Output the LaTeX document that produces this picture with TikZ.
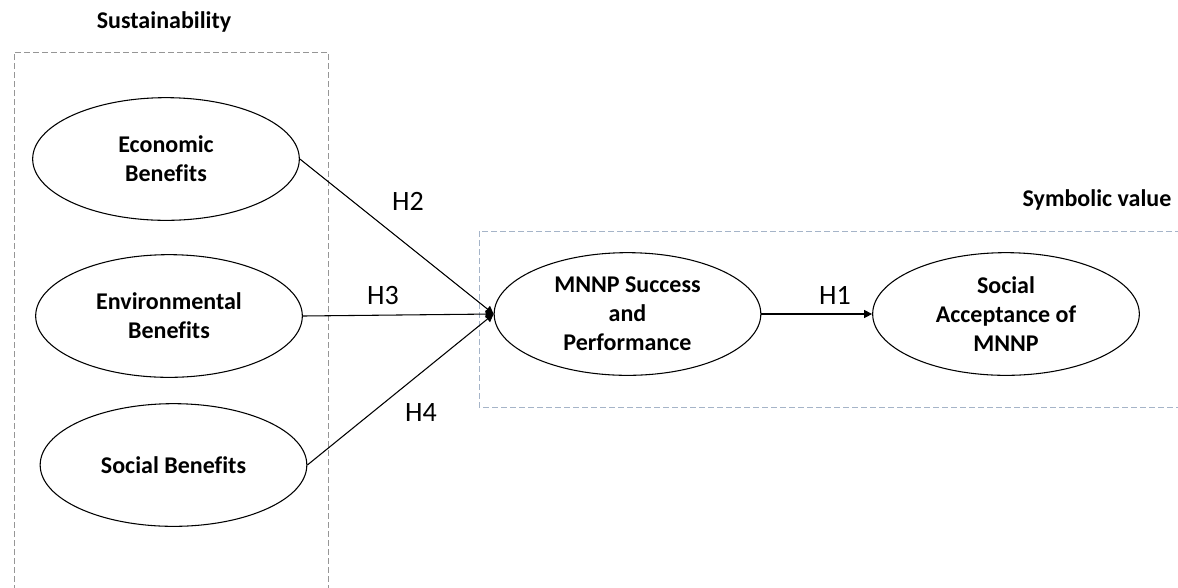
\documentclass[tikz,border=0pt]{standalone}
\usepackage{fontspec}
\setmainfont{Carlito}[Ligatures=NoCommon]
\usetikzlibrary{shapes.geometric,arrows.meta}
\definecolor{boxgray}{RGB}{150,150,150}
\definecolor{boxblue}{RGB}{165,180,200}
\tikzset{
  construct/.style={draw=black, line width=0.8pt, ellipse, inner sep=0pt,
    minimum width=200pt, minimum height=92pt, align=center,
    font=\fontsize{18}{21.75}\selectfont\bfseries},
  grouptitle/.style={anchor=base, inner sep=0pt, font=\fontsize{18}{21.75}\selectfont\bfseries},
  hyp/.style={inner sep=0pt, font=\fontsize{21}{25}\selectfont},
  arr/.style={draw=black, line width=0.8pt, -{Triangle[length=6pt,width=6pt]}},
  groupbox/.style={dash pattern=on 4.5pt off 2.25pt, line width=0.75pt}
}
\begin{document}
\begin{tikzpicture}[x=0.75pt,y=-0.75pt]
\useasboundingbox (0,0) rectangle (1178,587);
% group boxes
\draw[groupbox, draw=boxgray] (14,600) -- (14,52) -- (328,52) -- (328,600);
\draw[groupbox, draw=boxblue] (1190,231) -- (479,231) -- (479,407) -- (1190,407);
\node[grouptitle] (sust) at (164,28) {Sustainability};
\node[grouptitle] (symb) at (1097,206) {Symbolic value};
% constructs
\node[construct] (econ) at (166,159) {Economic\\Benefits};
\node[construct] (env) at (169,316) {Environmental\\Benefits};
\node[construct] (soc) at (173.5,465) {Social Benefits};
\node[construct] (mnnp) at (627.5,314) {MNNP Success\\and\\Performance};
\node[construct] (acc) at (1006,314) {Social\\Acceptance of\\MNNP};
% connectors
\draw[arr] (econ.east) -- (mnnp.west);
\draw[arr] (env.east) -- (mnnp.west);
\draw[arr] (soc.east) -- (mnnp.west);
\draw[arr] (mnnp.east) -- (acc.west);
% hypothesis labels
\node[hyp] (h2) at (408,201) {H2};
\node[hyp] (h3) at (383,296) {H3};
\node[hyp] (h4) at (421,412) {H4};
\node[hyp] (h1) at (835,295) {H1};
\end{tikzpicture}
\end{document}
